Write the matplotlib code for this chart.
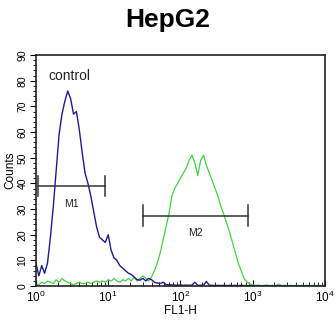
import matplotlib
matplotlib.use('Agg')
import matplotlib.pyplot as plt
import numpy as np
from matplotlib.ticker import MultipleLocator, LogLocator

plt.rcParams['font.family'] = ['Liberation Sans', 'DejaVu Sans']

# channel positions, log10(FL1-H) from 0 to 4 in steps of 0.04
log_ch = np.linspace(0, 4, 101)

# control (blue)
control = [9, 4, 8, 5, 9, 19, 31, 45, 59, 67,
           72, 76, 73, 67, 68, 61, 52, 44, 40, 35,
           29, 23, 19, 18, 17, 20, 14, 11, 10, 8,
           7, 6, 5, 4.5, 3.5, 2.5, 2.3, 3, 2, 3,
           2.5, 1.5, 1.2, 1, 1.5, 0.6, 0.5, 0.5, 0.4, 0.3,
           0.4, 0.3, 0.4, 0.3, 0.4, 1.5, 0.3, 0.3, 0.4, 1.8,
           0.3, 0.3, 0.2, 0.3, 0.2, 0.3, 0.2, 0.3, 0.2, 0.3,
           0.2, 0.3, 0.2, 0.2, 0.2, 0, 0, 0, 0, 0,
           0, 0, 0, 0, 0, 0, 0, 0, 0, 0,
           0, 0, 0, 0, 0, 0, 0, 0, 0, 0, 0]

# HepG2 sample (green)
sample = [1, 0.5, 1.5, 1, 2, 1.5, 1, 2.5, 1.5, 3,
          2, 1.5, 1, 0.5, 1, 1.5, 1, 1, 1.5, 1,
          1.5, 2, 1.5, 2, 1.5, 2.5, 2, 3, 2, 1.5,
          2.5, 2, 3, 2, 3.5, 2, 3, 4, 3, 2,
          3.5, 6, 9, 13, 18, 23, 28, 35, 38, 40,
          42, 44, 46, 49, 51, 48, 43, 49, 51, 47,
          44, 41, 38, 35, 31, 28, 24.5, 21, 17, 13,
          9, 6, 3, 1.6, 0.8, 0.5, 0.3, 0.4, 0.2, 0.3,
          0.4, 0.2, 0.3, 0.2, 0.8, 0.2, 0.3, 0.2, 0.3, 0.2,
          0.3, 0.2, 0.3, 0.2, 0.3, 0.2, 0.3, 0.2, 0.3, 0.2, 0.3]

# marker gates: (label, left, right, y)
gates = [('M1', 1.07, 9.0, 39), ('M2', 30, 850, 27.5)]

fig = plt.figure(figsize=(3.36, 3.24), dpi=100)
ax = fig.add_axes([0.107, 0.117, 0.860, 0.713])

x = 10 ** log_ch
ax.plot(x, sample, color='#44d044', lw=0.9)
ax.plot(x, control, color='#1c1c90', lw=1.0)

for name, lo, hi, gy in gates:
    ax.plot([lo, hi], [gy, gy], color='#333333', lw=1.1)
    ax.plot([lo, lo], [gy - 4, gy + 4], color='#333333', lw=1.1)
    ax.plot([hi, hi], [gy - 4, gy + 4], color='#333333', lw=1.1)
    ax.text(np.sqrt(lo * hi), gy - 7, name, ha='center', va='center', fontsize=7.5, color='#222222')

ax.text(1.47, 82, 'control', fontsize=10, va='center', ha='left', color='#222222')

ax.set_xscale('log')
ax.set_xlim(1, 1e4)
ax.set_ylim(0, 90)
ax.yaxis.set_major_locator(MultipleLocator(10))
ax.yaxis.set_minor_locator(MultipleLocator(2))
ax.xaxis.set_major_locator(LogLocator(base=10))
ax.xaxis.set_minor_locator(LogLocator(base=10, subs=np.arange(2, 10)))
ax.tick_params(axis='x', direction='in', length=4, width=0.8, labelsize=8.5, pad=3)
ax.tick_params(axis='x', which='minor', direction='in', length=3, width=0.6)
ax.tick_params(axis='y', direction='out', length=4, width=0.8, labelsize=7.5, pad=2)
ax.tick_params(axis='y', which='minor', direction='out', length=2, width=0.6)
plt.setp(ax.get_yticklabels(), rotation=90, va='center')
for s in ax.spines.values():
    s.set_linewidth(1.2)
    s.set_color('#222222')

ax.set_xlabel('FL1-H', fontsize=8.5, labelpad=0)
ax.set_ylabel('Counts', fontsize=8.5, labelpad=1)
fig.suptitle('HepG2', fontsize=19, fontweight='bold', y=0.975)

fig.savefig('out.png', dpi=100)
